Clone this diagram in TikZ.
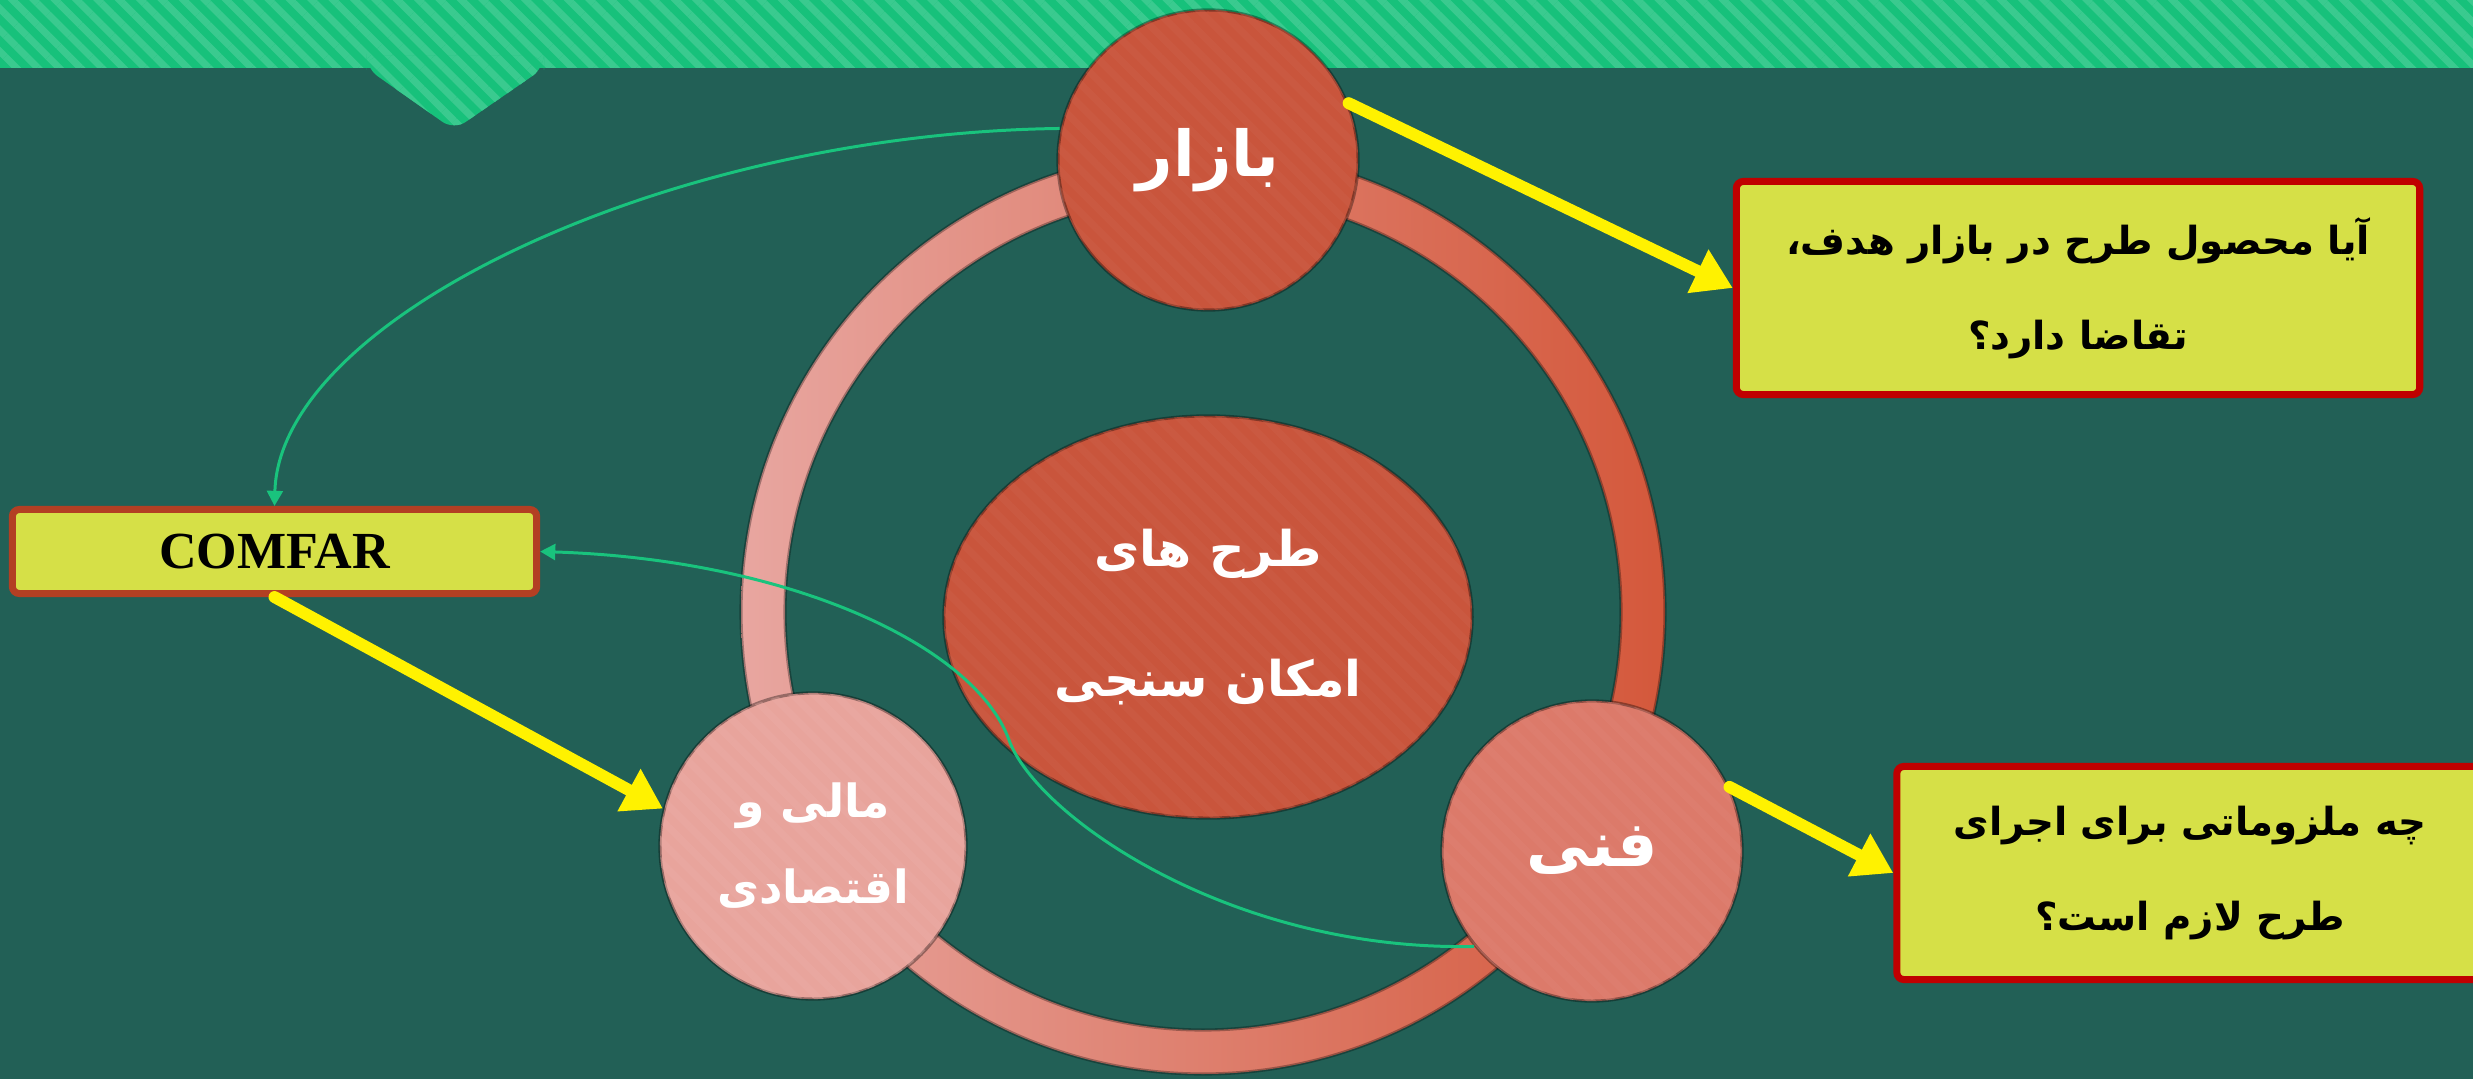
\documentclass[tikz,border=0pt]{standalone}
\usepackage{fontspec}
\setmainfont{Liberation Serif}
\newfontfamily\farsi[Script=Arabic]{DejaVu Sans}
\TeXXeTstate=1
\usetikzlibrary{shapes.geometric, arrows.meta, patterns.meta}

\definecolor{bg}{HTML}{226056}
\definecolor{bandgreen}{HTML}{17C17B}
\definecolor{boxfill}{HTML}{D6E047}
\definecolor{boxred}{HTML}{C00000}
\definecolor{comfarred}{HTML}{B33F23}
\definecolor{bazarred}{HTML}{C9553C}
\definecolor{fanired}{HTML}{DC7A6A}
\definecolor{malipink}{HTML}{E8A49C}
\definecolor{ringpink}{HTML}{E8A6A0}
\definecolor{ringred}{HTML}{D4583B}
\definecolor{linkgreen}{HTML}{19C37D}

\tikzset{
  stripes/.style={postaction={pattern={Lines[angle=-45,distance=4.3pt,line width=2pt]}, pattern color=#1}},
  ball/.style={circle, minimum size=3cm, inner sep=0pt, draw=black, draw opacity=0.35, line width=0.9pt, text=white, align=center, font=\farsi\bfseries\fontsize{18}{22}\selectfont},
  qbox/.style={rectangle, rounded corners=2pt, fill=boxfill, draw=boxred, line width=2pt, minimum width=6.83cm, minimum height=2.13cm, align=center, font=\farsi\bfseries\fontsize{11}{27}\selectfont},
  yarrow/.style={draw=yellow, line width=3.4pt, line cap=round, -{Triangle[length=11pt,width=13pt]}},
  garrow/.style={draw=linkgreen, line width=0.85pt, -{Triangle[length=4.3pt,width=4.5pt]}}
}

\begin{document}
\begin{tikzpicture}[x=0.01cm, y=0.01cm]
  \useasboundingbox (0,0) rectangle (2473,1078);
  \fill[bg] (-10,-10) rectangle (2483,1088);

  % top band with its notch
  \fill[bandgreen, stripes=bandgreen!85!white] (-10,1010) rectangle (2483,1088);
  \fill[bandgreen, stripes=bandgreen!85!white, rounded corners=4pt] (366,1022) -- (366,1010) -- (454,948) -- (544,1010) -- (544,1022) -- cycle;

  % ring
  \shade[even odd rule, left color=ringpink, right color=ringred] (1203,466) circle[radius=462] (1203,466) circle[radius=418];
  \draw[black, opacity=0.3, line width=0.9pt] (1203,466) circle[radius=462] (1203,466) circle[radius=418];

  \node[ellipse, minimum width=5.28cm, minimum height=4.02cm, inner sep=0pt, fill=bazarred, stripes=bazarred!92!white, draw=black, draw opacity=0.35, line width=0.9pt, text=white, align=center, font=\farsi\bfseries\fontsize{14}{37}\selectfont] (core) at (1208,461) {\beginR طرح های\endR\\ \beginR امکان سنجی\endR};

  \node[ball, fill=bazarred, stripes=bazarred!92!white] (bazar) at (1208,918) {\beginR بازار\endR};
  \node[ball, fill=fanired, stripes=fanired!92!white] (fani) at (1592,227) {\beginR فنی\endR};
  \node[ball, fill=malipink, stripes=malipink!88!white, minimum size=3.06cm, font=\farsi\bfseries\fontsize{13}{24.5}\selectfont] (mali) at (813,232) {\beginR مالی و\endR\\ \beginR اقتصادی\endR};

  \node[qbox] (q1) at (2078,790) {\beginR آیا محصول طرح در بازار هدف،\endR\\ \beginR تقاضا دارد؟\endR};
  \node[qbox, minimum width=5.86cm] (q2) at (2190,205) {\beginR چه ملزوماتی برای اجرای\endR\\ \beginR طرح لازم است؟\endR};
  \node[rectangle, rounded corners=2pt, fill=boxfill, draw=comfarred, line width=2pt, minimum width=5.24cm, minimum height=0.84cm, font=\bfseries\fontsize{14.8}{17}\selectfont] (comfar) at (274.5,526.5) {COMFAR};

  \draw[yarrow] (bazar.22) -- (q1.west);
  \draw[yarrow] (comfar.south) -- (mali.166);
  \draw[yarrow] (fani.25) -- (q2.west);

  \coordinate (bend) at (1009,338);
  \draw[garrow] (bazar.168) .. controls +(-393,-5) and +(5,188) .. (comfar.north);
  \draw[garrow] (fani.219) .. controls +(-245,-5) and +(27,-75) .. (bend) .. controls +(-34,94) and +(250,-8) .. (comfar.east);
\end{tikzpicture}
\end{document}
